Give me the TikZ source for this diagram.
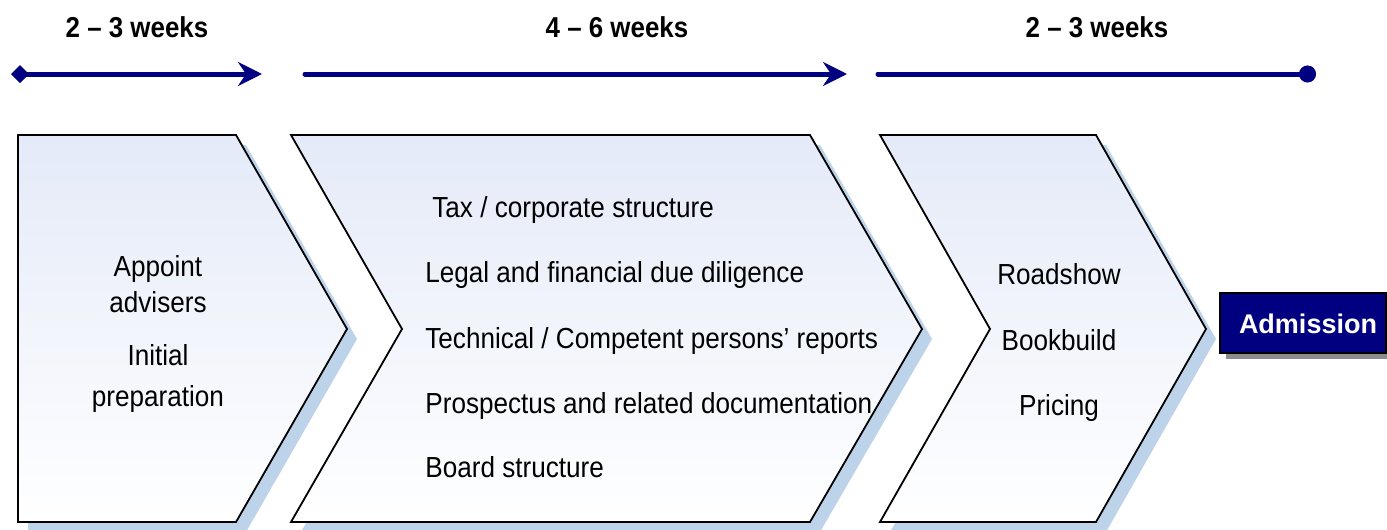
\documentclass[tikz,border=0pt]{standalone}
\usepackage{fontspec}
\setmainfont{Liberation Sans}[FakeStretch=0.9]
\newfontfamily\widefont{Liberation Sans}
\usetikzlibrary{arrows.meta}

\definecolor{navy}{HTML}{000080}
\definecolor{chevtop}{HTML}{E4EAF8}
\definecolor{chevshadow}{HTML}{BDD3EA}

\tikzset{
  chevron/.style={draw=black, line width=0.9pt, top color=chevtop, bottom color=white},
  chevshade/.style={fill=chevshadow},
  timeline/.style={draw=navy, line width=2.5pt},
  weeks/.style={font=\fontsize{14.4}{16}\selectfont\bfseries, anchor=base, inner sep=0pt},
  item/.style={font=\fontsize{14.5}{17}\selectfont, inner sep=0pt},
}

\begin{document}
\begin{tikzpicture}[x=0.5pt,y=-0.5pt]
    \useasboundingbox (0,0) rectangle (1387,530);
    % timeline along the top
    \coordinate (t1a) at (11,74);   \coordinate (t1b) at (262,74);
    \coordinate (t2a) at (305,74);  \coordinate (t2b) at (847,74);
    \coordinate (t3a) at (878,74);  \coordinate (t3b) at (1316,74);
    \draw [timeline, {Diamond[length=9pt,width=9pt,fill=navy]}-{Stealth[length=12pt,width=12pt,inset=4pt]}] (t1a) -- (t1b);
    \draw [timeline, line cap=round, -{Stealth[length=12pt,width=12pt,inset=4pt]}] (t2a) -- (t2b);
    \draw [timeline, line cap=round, -{Circle[length=8.5pt,fill=navy]}] (t3a) -- (t3b);
    \node [weeks] (w1) at (137,37) {2 – 3 weeks};
    \node [weeks] (w2) at (617,37) {4 – 6 weeks};
    \node [weeks] (w3) at (1097,37) {2 – 3 weeks};

    % shadows first, then the chevrons
    \fill [chevshade] (28,145) -- (246,145) -- (357,339) -- (246,532) -- (28,532) -- cycle;
    \fill [chevshade] (301,145) -- (820,145) -- (932,339) -- (820,532) -- (301,532) -- (412,339) -- cycle;
    \fill [chevshade] (890,145) -- (1106,145) -- (1216,339) -- (1106,532) -- (890,532) -- (1000,339) -- cycle;
    \path [chevron] (18,135) -- (236,135) -- (347,329) -- (236,522) -- (18,522) -- cycle;
    \path [chevron] (291,135) -- (810,135) -- (922,329) -- (810,522) -- (291,522) -- (402,329) -- cycle;
    \path [chevron] (880,135) -- (1096,135) -- (1206,329) -- (1096,522) -- (880,522) -- (990,329) -- cycle;

    % first stage
    \node [item, anchor=base] (appoint) at (158,276) {Appoint};
    \node [item, anchor=base] (advisers) at (158,312) {advisers};
    \node [item, anchor=base] (initial) at (158,365) {Initial};
    \node [item, anchor=base] (prep) at (158,406) {preparation};

    % second stage
    \node [item, anchor=base west] (tax) at (432,217) {Tax / corporate structure};
    \node [item, anchor=base west] (legal) at (425,282) {Legal and financial due diligence};
    \node [item, anchor=base west] (tech) at (425,348) {Technical / Competent persons’ reports};
    \node [item, anchor=base west] (prosp) at (425,413) {Prospectus and related documentation};
    \node [item, anchor=base west] (board) at (425,477) {Board structure};

    % third stage
    \node [item, anchor=base] (road) at (1059,284) {Roadshow};
    \node [item, anchor=base] (book) at (1059,350) {Bookbuild};
    \node [item, anchor=base] (pricing) at (1059,415) {Pricing};

    % admission box
    \fill [gray!90] (1226,299) rectangle (1392,359);
    \draw [fill=navy, draw=black, line width=0.9pt] (1220,293) rectangle (1386,353);
    \node [font=\widefont\fontsize{13.5}{16}\selectfont\bfseries, text=white, anchor=base, inner sep=0pt] (admission) at (1308,333) {Admission};
\end{tikzpicture}
\end{document}
